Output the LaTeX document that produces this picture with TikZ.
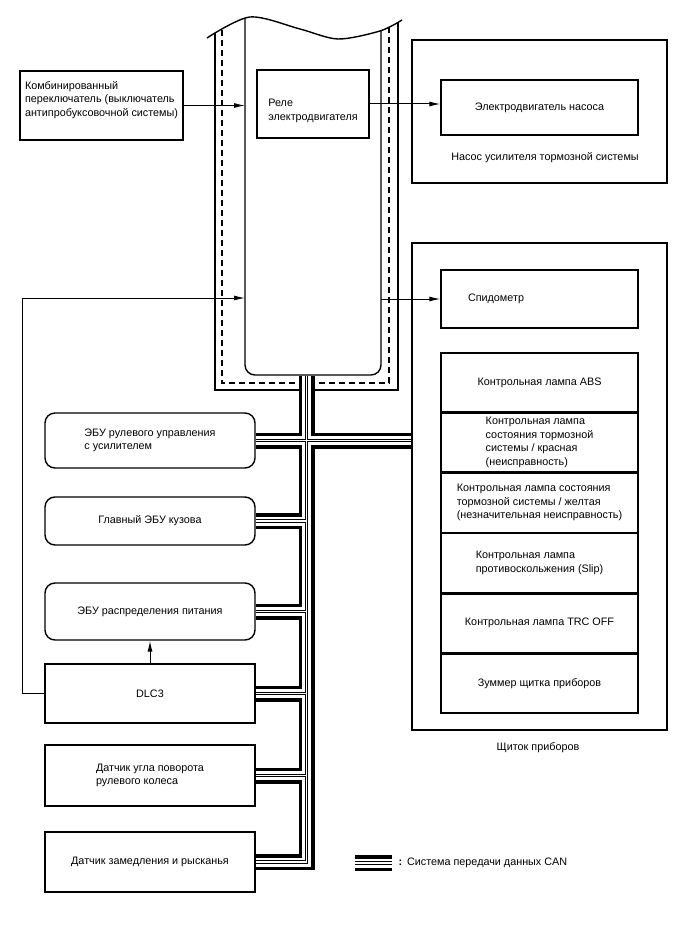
\documentclass[tikz,border=0pt]{standalone}
\usepackage{fontspec}
\setmainfont{Liberation Sans}
\usetikzlibrary{arrows.meta,positioning}
\newcommand{\boxfont}{\fontsize{10.8pt}{13.5pt}\selectfont}
\tikzset{
  blk/.style={draw, line width=1.4pt, inner sep=0pt, align=center, font=\boxfont},
  ecub/.style={blk, rounded corners=10pt, minimum width=210pt},
  lamp/.style={blk, minimum width=197pt, minimum height=58.8pt},
  arr/.style={line width=1pt, -{Latex[length=11pt,width=5pt]}},
  frm/.style={line width=1.4pt}
}
\begin{document}
\begin{tikzpicture}[x=1pt,y=-1pt]
\useasboundingbox (0,0) rectangle (688,949);

\begin{scope}
  \clip plot[smooth] coordinates {(207,38) (250,17) (300,29) (338,39) (380,31) (402,20)} -- (402,400) -- (207,400) -- cycle;
  \draw[frm] (215,0) rectangle (398,390);
  \draw[frm, dash pattern=on 6pt off 4pt] (222,0) rectangle (389,383);
  \draw[frm, rounded corners=10pt] (245,-20) rectangle (381,375);
\end{scope}
\draw[frm] plot[smooth] coordinates {(207,38) (250,17) (300,29) (338,39) (380,31) (402,20)};
\coordinate (ecuL) at (245,0);
\coordinate (ecuR) at (381,0);
\coordinate (bus) at (306.5,375.7);
\coordinate (ret) at (22,298);

\node[blk, minimum width=163pt, minimum height=69pt] (sw) at (101.5,105.5) {};
\node[font=\boxfont, align=left] (swtxt) at (101.5,100) {Комбинированный\\переключатель (выключатель\\антипробуксовочной системы)};
\node[blk, minimum width=112pt, minimum height=68pt] (relay) at (313,104) {};
\node[font=\boxfont, align=left] (relaytxt) at (313,111) {Реле\\электродвигателя};

\node[blk, minimum width=255pt, minimum height=143pt] (pump) at (539.5,111.5) {};
\node[blk, minimum width=197pt, minimum height=55pt] (motor) at (539.5,107.5) {Электродвигатель насоса};
\node[font=\boxfont] (pumpttl) at (545,158) {Насос усилителя тормозной системы};

\node[blk, minimum width=255pt, minimum height=487pt] (cluster) at (539.5,486.5) {};
\node[font=\boxfont] (clusterttl) at (538,748) {Щиток приборов};
\node[blk, minimum width=197pt, minimum height=58pt, text width=143pt, align=left] (speedo) at (539.5,299) {Спидометр};
\node[lamp] (abs) at (539.5,382.4) {Контрольная лампа ABS};
\node[lamp, below=0pt of abs, align=left] (red) {Контрольная лампа\\состояния тормозной\\системы / красная\\(неисправность)};
\node[lamp, below=0pt of red, align=left] (yellow) {Контрольная лампа состояния\\тормозной системы / желтая\\(незначительная неисправность)};
\node[lamp, below=0pt of yellow, align=left] (slip) {Контрольная лампа\\противоскольжения (Slip)};
\node[lamp, below=0pt of slip] (trc) {Контрольная лампа TRC OFF};
\node[lamp, below=0pt of trc] (buzz) {Зуммер щитка приборов};

\node[ecub, minimum height=55pt, align=left] (eps) at (150,440.5) {ЭБУ рулевого управления\\с усилителем};
\node[ecub, minimum height=48pt] (body) at (150,521) {Главный ЭБУ кузова};
\node[ecub, minimum height=57pt] (pwr) at (150,611.5) {ЭБУ распределения питания};
\node[blk, minimum width=210pt, minimum height=59pt] (dlc) at (150,693.5) {DLC3};
\node[blk, minimum width=210pt, minimum height=61pt, align=left] (steer) at (150,775.5) {Датчик угла поворота\\рулевого колеса};
\node[blk, minimum width=210pt, minimum height=60pt] (yaw) at (150,862) {Датчик замедления и рысканья};

\coordinate (legA) at (355,863);
\coordinate (legB) at (392,863);
\node[anchor=west, font=\boxfont] (legtxt) at (395,863) {\textbf{:}\hspace{5pt}Система передачи данных CAN};

\foreach \lw/\col in {16/black,9/white,3.6/black,1.4/white}
  \draw[line width=\lw pt, \col, line join=miter]
    (bus) |- (yaw.east)
    (eps.east) -- (eps.east -| cluster.west)
    (body.east) -- (body.east -| bus)
    (pwr.east) -- (pwr.east -| bus)
    (dlc.east) -- (dlc.east -| bus)
    (steer.east) -- (steer.east -| bus)
    (legA) -- (legB);

\draw[arr] (sw.east) -- (sw.east -| ecuL);
\draw[arr] (relay.east) -- (relay.east -| motor.west);
\draw[arr] (speedo.west -| ecuR) -- (speedo.west);
\draw[arr] (dlc.west) -| (ret) -- (ret -| ecuL);
\draw[arr] (dlc.north) -- (pwr.south);
\end{tikzpicture}
\end{document}
